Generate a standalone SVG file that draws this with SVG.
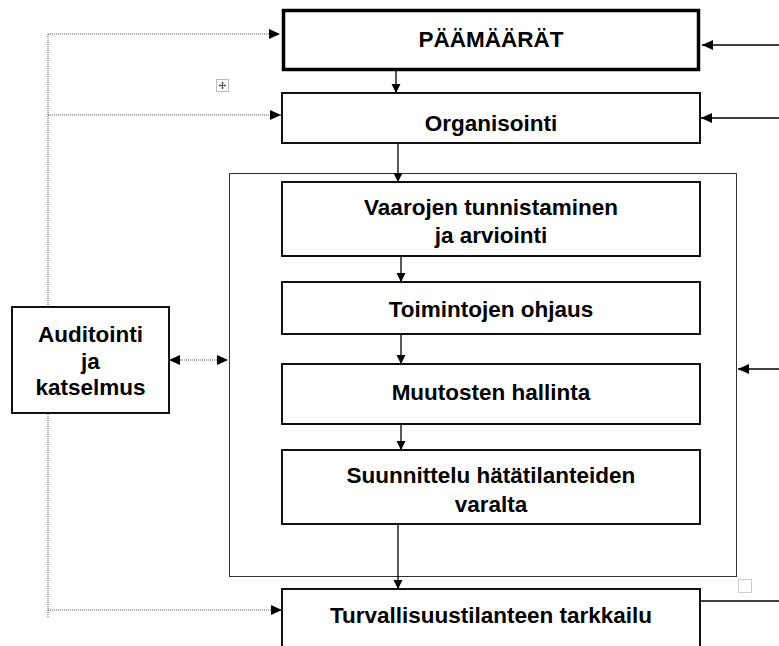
<svg xmlns="http://www.w3.org/2000/svg" width="779" height="646" viewBox="0 0 779 646">
<style>
.box{fill:#fff;stroke:#111;stroke-width:2}
.cont{fill:none;stroke:#333;stroke-width:1}
.t{font-family:"Liberation Sans",Arial,sans-serif;font-weight:bold;font-size:22.5px;fill:#000;text-anchor:middle}
.s{stroke:#000;stroke-width:1.3;fill:none}
.d{stroke:#555;stroke-width:1;stroke-dasharray:1 1;fill:none}
</style>
<defs>
<marker id="a" markerUnits="userSpaceOnUse" markerWidth="12" markerHeight="12" viewBox="0 0 12 12" refX="11" refY="6" orient="auto">
<path d="M0,1 L11,6 L0,11 Z" fill="#000"/>
</marker>
<marker id="as" markerUnits="userSpaceOnUse" markerWidth="10" markerHeight="10" viewBox="0 0 10 10" refX="9" refY="5" orient="auto">
<path d="M0,0.5 L9,5 L0,9.5 Z" fill="#000"/>
</marker>
<marker id="ab" markerUnits="userSpaceOnUse" markerWidth="12" markerHeight="12" viewBox="0 0 12 12" refX="1" refY="6" orient="auto">
<path d="M11,1 L0,6 L11,11 Z" fill="#000"/>
</marker>
</defs>

<g id="container">
<rect class="cont" x="229.5" y="173.5" width="507" height="403"/>
</g>

<g id="connectors">
<line class="d" x1="48" y1="34" x2="48" y2="617"/>
<line class="d" x1="48" y1="34" x2="280" y2="34" marker-end="url(#a)"/>
<line class="d" x1="48" y1="115" x2="281" y2="115" marker-end="url(#a)"/>
<line class="d" x1="48" y1="610" x2="282" y2="610" marker-end="url(#a)"/>
<line class="d" x1="170" y1="360" x2="228" y2="360" marker-start="url(#ab)" marker-end="url(#a)"/>
<line class="s" x1="779" y1="45" x2="702" y2="45" marker-end="url(#a)"/>
<line class="s" x1="779" y1="118" x2="701" y2="118" marker-end="url(#a)"/>
<line class="s" x1="779" y1="369" x2="738" y2="369" marker-end="url(#a)"/>
<line class="s" x1="700" y1="601" x2="779" y2="601"/>
<line class="s" x1="396" y1="71" x2="396" y2="93" marker-end="url(#as)"/>
<line class="s" x1="398" y1="143" x2="398" y2="182" marker-end="url(#as)"/>
<line class="s" x1="401" y1="256" x2="401" y2="282" marker-end="url(#as)"/>
<line class="s" x1="401" y1="334" x2="401" y2="364" marker-end="url(#as)"/>
<line class="s" x1="401" y1="424" x2="401" y2="450" marker-end="url(#as)"/>
<line class="s" x1="398" y1="524" x2="398" y2="589" marker-end="url(#as)"/>
</g>

<g id="paamaarat">
<rect x="283.5" y="10.5" width="415" height="59" fill="#fff" stroke="#000" stroke-width="3.5"/>
<text class="t" x="491" y="47">PÄÄMÄÄRÄT</text>
</g>

<g id="organisointi">
<rect class="box" x="282" y="93" width="418" height="50"/>
<text class="t" x="491" y="131">Organisointi</text>
</g>

<g id="vaarojen">
<rect class="box" x="282" y="182" width="418" height="74"/>
<text class="t" x="491" y="215">Vaarojen tunnistaminen</text>
<text class="t" x="491" y="243">ja arviointi</text>
</g>

<g id="toimintojen">
<rect class="box" x="282" y="282" width="418" height="52"/>
<text class="t" x="491" y="317">Toimintojen ohjaus</text>
</g>

<g id="muutosten">
<rect class="box" x="282" y="364" width="418" height="60"/>
<text class="t" x="491" y="400">Muutosten hallinta</text>
</g>

<g id="suunnittelu">
<rect class="box" x="282" y="450" width="418" height="74"/>
<text class="t" x="491" y="483">Suunnittelu hätätilanteiden</text>
<text class="t" x="491" y="512">varalta</text>
</g>

<g id="turvallisuus">
<rect class="box" x="282" y="589" width="418" height="70"/>
<text class="t" x="491" y="623">Turvallisuustilanteen tarkkailu</text>
</g>

<g id="auditointi">
<rect class="box" x="12" y="307" width="157" height="106"/>
<text class="t" x="90.5" y="342">Auditointi</text>
<text class="t" x="90.5" y="368.5">ja</text>
<text class="t" x="90.5" y="395">katselmus</text>
</g>

<g id="handles">
<rect x="216.5" y="79.5" width="12" height="12" fill="#fff" stroke="#bbb" stroke-width="1"/>
<path d="M222.5,82 V89 M219,85.5 H226" stroke="#555" stroke-width="1"/>
<path d="M222.5,81.5 l-1.5,2 h3 Z M222.5,89.5 l-1.5,-2 h3 Z M218.5,85.5 l2,-1.5 v3 Z M226.5,85.5 l-2,-1.5 v3 Z" fill="#555"/>
<rect x="738.5" y="579.5" width="13" height="13" fill="#fff" stroke="#ccc" stroke-width="1"/>
</g>
</svg>
